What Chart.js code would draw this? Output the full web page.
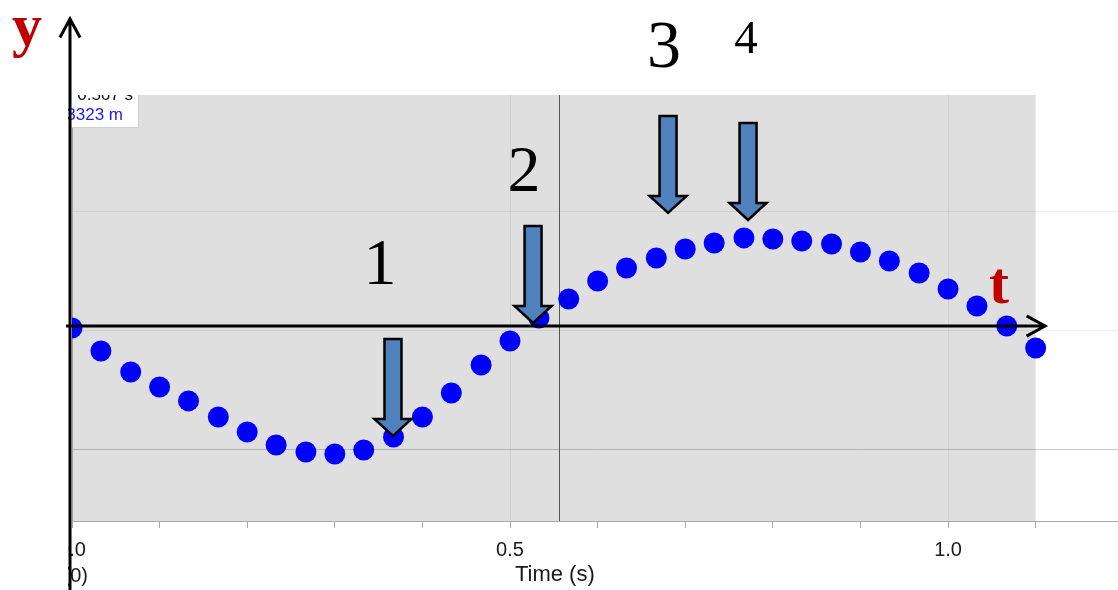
<!DOCTYPE html>
<html>
<head>
<meta charset="utf-8">
<script src="https://cdn.jsdelivr.net/npm/chart.js@4.4.1/dist/chart.umd.min.js"></script>
<style>
    html, body { margin: 0; padding: 0; background: #fff; overflow: hidden; }
    #motionChart { display: block; }
</style>
</head>
<body>
<canvas id="motionChart" width="1118" height="590"></canvas>
<script>
// Sample times (s)
const times = [0.000, 0.033, 0.067, 0.100, 0.133, 0.167, 0.200, 0.233, 0.267, 0.300,
    0.333, 0.367, 0.400, 0.433, 0.467, 0.500, 0.533, 0.567, 0.600, 0.633,
    0.667, 0.700, 0.733, 0.767, 0.800, 0.833, 0.867, 0.900, 0.933, 0.967,
    1.000, 1.033, 1.067, 1.100];

// Position (m)
const positions = [0.0025, -0.0168, -0.0345, -0.0471, -0.0588, -0.0723, -0.0849, -0.0958, -0.1017, -0.1034,
    -0.1000, -0.0891, -0.0723, -0.0521, -0.0286, -0.0084, 0.0109, 0.0269, 0.0420, 0.0529,
    0.0613, 0.0689, 0.0739, 0.0782, 0.0773, 0.0756, 0.0731, 0.0664, 0.0588, 0.0487,
    0.0353, 0.0210, 0.0042, -0.0143];

// Axis ticks
const xTicks = [0, 0.1, 0.2, 0.3, 0.4, 0.5, 0.6, 0.7, 0.8, 0.9, 1.0, 1.1];
const xLabeled = [0, 0.5, 1.0];
const xGridValues = [0.5, 1.0];
const yGridValues = [-0.1, 0, 0.1];

// Examine cursor / readout
const selectedIndex = 17;
const cursorTime = 0.556;
const readout = ['0.567 s', '0.3323 m'];

// Annotation arrows (tip in data units) and numbers
const arrowTips = [
    { t: 0.3664, y: -0.0882 },
    { t: 0.5263, y: 0.0067 },
    { t: 0.6804, y: 0.0992 },
    { t: 0.7717, y: 0.0933 }
];
const numberLabels = [
    { text: '1', t: 0.3516, y: 0.0395, size: 66 },
    { text: '2', t: 0.5160, y: 0.1176, size: 66 },
    { text: '3', t: 0.6758, y: 0.2218, size: 68 },
    { text: '4', t: 0.7694, y: 0.2336, size: 47 }
];

const SERIF = '"Liberation Serif", "Times New Roman", serif';
const SANS = '"Liberation Sans", Arial, sans-serif';

function drawBlockArrow(ctx, cx, tipY) {
    const len = 97, shaft = 17, head = 37, headH = 17;
    const top = tipY - len, neck = tipY - headH;
    ctx.beginPath();
    ctx.moveTo(cx - shaft / 2, top);
    ctx.lineTo(cx + shaft / 2, top);
    ctx.lineTo(cx + shaft / 2, neck);
    ctx.lineTo(cx + head / 2, neck);
    ctx.lineTo(cx, tipY);
    ctx.lineTo(cx - head / 2, neck);
    ctx.lineTo(cx - shaft / 2, neck);
    ctx.closePath();
    ctx.fillStyle = '#4f81bd';
    ctx.fill();
    ctx.lineWidth = 2.5;
    ctx.lineJoin = 'miter';
    ctx.strokeStyle = '#000';
    ctx.stroke();
}

function drawLineArrow(ctx, x1, y1, x2, y2) {
    const ang = Math.atan2(y2 - y1, x2 - x1);
    const hl = 21, spread = 0.5;
    ctx.beginPath();
    ctx.moveTo(x1, y1);
    ctx.lineTo(x2, y2);
    ctx.moveTo(x2 - hl * Math.cos(ang - spread), y2 - hl * Math.sin(ang - spread));
    ctx.lineTo(x2, y2);
    ctx.lineTo(x2 - hl * Math.cos(ang + spread), y2 - hl * Math.sin(ang + spread));
    ctx.lineWidth = 3;
    ctx.strokeStyle = '#000';
    ctx.stroke();
}

const overlay = {
    id: 'overlay',
    beforeDraw(chart) {
        const { ctx, chartArea: a, scales: { x } } = chart;
        const xEnd = x.getPixelForValue(times[times.length - 1]);
        ctx.save();
        ctx.fillStyle = '#dfdfdf';
        ctx.fillRect(a.left, a.top, xEnd - a.left, a.bottom - a.top);
        ctx.restore();
    },
    beforeDatasetsDraw(chart) {
        const { ctx, chartArea: a, scales: { x } } = chart;
        const cx = Math.round(x.getPixelForValue(cursorTime)) + 0.5;
        ctx.save();
        ctx.strokeStyle = '#555';
        ctx.lineWidth = 1;
        ctx.beginPath();
        ctx.moveTo(cx, a.top);
        ctx.lineTo(cx, a.bottom);
        ctx.stroke();
        ctx.restore();
    },
    afterDraw(chart) {
        const { ctx, chartArea: a, scales: { x, y } } = chart;
        const xEnd = x.getPixelForValue(times[times.length - 1]);
        ctx.save();

        // axis title, centred under the data region
        ctx.fillStyle = '#1a1a1a';
        ctx.font = '22px ' + SANS;
        ctx.textAlign = 'center';
        ctx.textBaseline = 'alphabetic';
        ctx.fillText('Time (s)', (a.left + xEnd) / 2 + 1, 581);
        ctx.font = '20px ' + SANS;
        ctx.textAlign = 'right';
        ctx.fillText('(0)', 88, 582);

        // readout box
        ctx.save();
        ctx.beginPath();
        ctx.rect(60, a.top, 82, 36);
        ctx.clip();
        ctx.fillStyle = '#fff';
        ctx.fillRect(60, a.top - 10, 78, 43);
        ctx.strokeStyle = '#cfcfcf';
        ctx.lineWidth = 1;
        ctx.strokeRect(60.5, a.top - 10.5, 78, 43);
        ctx.font = '17px ' + SANS;
        ctx.textAlign = 'right';
        ctx.fillStyle = '#111';
        ctx.fillText(readout[0], 133, 100);
        ctx.fillStyle = '#1a1aff';
        ctx.fillText(readout[1], 123, 120);
        ctx.restore();

        // white margin hiding the clipped left edge
        ctx.fillStyle = '#fff';
        ctx.fillRect(0, a.top, 68, chart.height - a.top);

        // hand-drawn axes
        drawLineArrow(ctx, 70, chart.height, 70, 19);
        drawLineArrow(ctx, 66, 326, 1045, 326);

        // block arrows
        arrowTips.forEach(p => {
            drawBlockArrow(ctx, x.getPixelForValue(p.t), y.getPixelForValue(p.y));
        });

        // numbers
        ctx.fillStyle = '#000';
        ctx.textAlign = 'center';
        numberLabels.forEach(l => {
            ctx.font = l.size + 'px ' + SERIF;
            ctx.fillText(l.text, x.getPixelForValue(l.t), y.getPixelForValue(l.y));
        });

        // axis letters
        ctx.fillStyle = '#c00000';
        ctx.font = 'bold 60px ' + SERIF;
        ctx.textAlign = 'left';
        ctx.fillText('y', 12, 45);
        ctx.fillText('t', 989, 303);

        ctx.restore();
    }
};

const ctx = document.getElementById('motionChart');
new Chart(ctx, {
    type: 'scatter',
    data: {
        datasets: [{
            data: [{ x: times[selectedIndex], y: positions[selectedIndex] }],
            pointRadius: 5.5,
            pointBorderColor: '#00007a',
            pointBackgroundColor: 'rgba(0,0,0,0)',
            pointBorderWidth: 1,
            order: 0
        }, {
            data: times.map((t, i) => ({ x: t, y: positions[i] })),
            pointRadius: 10.5,
            pointBackgroundColor: '#0000ff',
            pointBorderWidth: 0,
            order: 1
        }]
    },
    options: {
        responsive: false,
        animation: false,
        devicePixelRatio: 1,
        events: [],
        layout: { autoPadding: false, padding: { left: 72, top: 95, right: 0, bottom: 0 } },
        plugins: {
            legend: { display: false },
            tooltip: { enabled: false }
        },
        scales: {
            x: {
                type: 'linear',
                min: 0,
                max: 1.194,
                afterFit: s => { s.height = 69; s.paddingLeft = 0; s.paddingRight = 0; },
                afterBuildTicks: s => { s.ticks = xTicks.map(v => ({ value: v })); },
                border: { color: '#a8a8a8', width: 1 },
                grid: {
                    color: c => (c.tick && xGridValues.includes(c.tick.value)) ? 'rgba(0,0,0,0.06)' : 'rgba(0,0,0,0)',
                    tickColor: '#a8a8a8',
                    tickLength: 7,
                    drawTicks: true
                },
                ticks: {
                    autoSkip: false,
                    maxRotation: 0,
                    padding: 10,
                    color: '#1a1a1a',
                    font: { family: SANS, size: 20 },
                    callback: v => xLabeled.includes(v) ? v.toFixed(1) : ''
                }
            },
            y: {
                type: 'linear',
                min: -0.1597,
                max: 0.1983,
                afterFit: s => { s.width = 0; },
                afterBuildTicks: s => { s.ticks = yGridValues.map(v => ({ value: v })); },
                border: { color: '#a0a0a0', width: 1 },
                grid: {
                    color: c => (c.tick && c.tick.value === -0.1) ? 'rgba(0,0,0,0.2)' : 'rgba(0,0,0,0.06)',
                    drawTicks: false
                },
                ticks: { display: false }
            }
        }
    },
    plugins: [overlay]
});
</script>
</body>
</html>
